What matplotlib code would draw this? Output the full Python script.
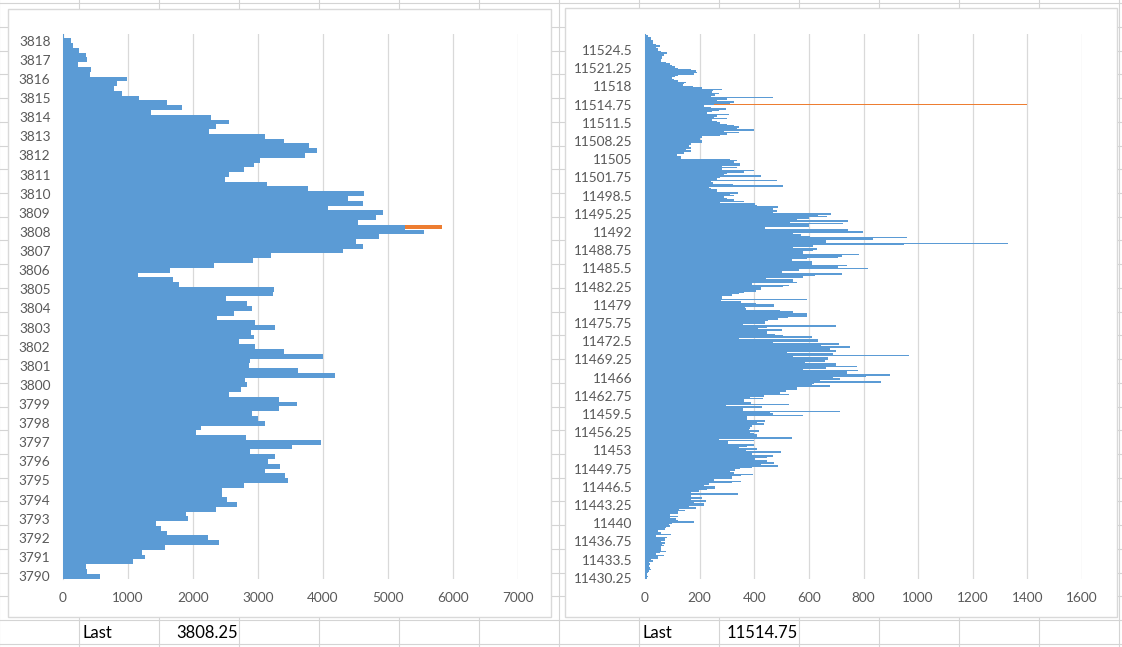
import matplotlib
matplotlib.use("Agg")
import matplotlib.pyplot as plt
from matplotlib.patches import Rectangle
import numpy as np

plt.rcParams['font.family'] = ['Lato', 'DejaVu Sans']

W, H = 1122, 647

# left profile: price ladder and volume, listed from the top price (3818.25) down to 3790
left_prices = np.arange(3790, 3818.5, 0.25)
left_volume_top_down = [
    20, 121, 154, 242, 352, 368, 231, 429, 418, 984,
    835, 780, 912, 1165, 1599, 1835, 1352, 2275, 2549, 2352,
    2242, 3110, 3401, 3780, 3912, 3720, 3027, 2934, 2786, 2560,
    2495, 3143, 3769, 4626, 4379, 4615, 4077, 4923, 4813, 4533,
    5269, 5555, 4857, 4511, 4615, 4308, 3203, 2923, 2319, 1648,
    1154, 1692, 1786, 3247, 3231, 2511, 2835, 2912, 2632, 2374,
    2956, 3264, 2896, 2940, 2709, 2956, 3401, 3995, 2874, 2863,
    3615, 4187, 2802, 2835, 2742, 2555, 3324, 3599, 3324, 2912,
    3000, 3110, 2121, 2049, 2819, 3973, 3527, 2879, 3258, 3154,
    3335, 3110, 3418, 3462, 2780, 2451, 2451, 2522, 2676, 2352,
    1890, 1923, 1434, 1511, 1599, 2231, 2396, 1571, 1214, 1258,
    1077, 352, 368, 571,
]
left_last = 3808.25
left_last_mark = 5830

# right profile: 11430.25 .. 11527.25, listed from the top down
right_prices = np.arange(11430.25, 11527.5, 0.25)
right_volume_top_down = [
    4, 10, 22, 22, 28, 28, 28, 40, 56, 40,
    46, 46, 58, 80, 70, 70, 64, 64, 60, 58,
    76, 90, 100, 110, 120, 167, 185, 191, 180, 119,
    110, 100, 107, 120, 149, 143, 140, 175, 210, 282,
    250, 246, 270, 258, 240, 470, 300, 264, 325, 310,
    252, 216, 240, 295, 270, 246, 228, 307, 264, 252,
    300, 246, 262, 276, 300, 325, 343, 337, 400, 288,
    343, 300, 276, 210, 200, 200, 210, 210, 167, 161,
    161, 167, 149, 167, 143, 143, 116, 131, 131, 313,
    337, 327, 349, 349, 282, 337, 282, 400, 361, 300,
    288, 424, 276, 264, 482, 240, 250, 322, 506, 234,
    240, 264, 264, 340, 313, 325, 288, 300, 325, 361,
    276, 404, 410, 488, 470, 470, 482, 470, 682, 634,
    667, 600, 555, 745, 530, 725, 600, 600, 440, 745,
    745, 797, 543, 570, 604, 958, 834, 664, 664, 1330,
    949, 616, 543, 628, 615, 580, 580, 783, 722, 707,
    592, 537, 610, 610, 610, 739, 707, 816, 565, 503,
    503, 721, 622, 580, 444, 543, 543, 555, 392, 528,
    507, 424, 424, 406, 361, 343, 319, 282, 282, 594,
    279, 352, 406, 473, 473, 367, 371, 495, 543, 594,
    594, 594, 525, 488, 452, 438, 438, 359, 700, 448,
    413, 500, 446, 446, 476, 507, 610, 343, 634, 634,
    470, 710, 646, 749, 676, 676, 700, 519, 688, 967,
    543, 670, 670, 658, 585, 700, 700, 776, 664, 580,
    779, 739, 739, 897, 810, 688, 713, 640, 864, 620,
    610, 676, 555, 555, 516, 516, 495, 528, 436, 385,
    431, 361, 361, 388, 528, 298, 428, 359, 359, 713,
    458, 470, 580, 373, 373, 373, 440, 410, 434, 392,
    392, 385, 379, 416, 383, 398, 410, 410, 540, 270,
    398, 303, 303, 398, 373, 343, 410, 371, 497, 392,
    392, 468, 446, 404, 446, 446, 473, 424, 488, 392,
    349, 330, 310, 327, 395, 352, 319, 319, 252, 352,
    319, 234, 216, 258, 258, 228, 198, 167, 340, 167,
    167, 210, 167, 222, 179, 216, 216, 161, 185, 125,
    145, 119, 119, 92, 119, 92, 113, 121, 179, 100,
    88, 92, 76, 73, 46, 46, 58, 97, 40, 80,
    73, 73, 58, 73, 61, 68, 58, 58, 58, 76,
    56, 40, 70, 46, 46, 22, 28, 16, 19, 16,
    16, 19, 22, 16, 10, 7, 7, 10, 7,
]
right_last = 11514.75
right_last_mark = 1400

BLUE = '#5b9bd5'
ORANGE = '#ed7d31'
GRID = '#d9d9d9'
CELL = '#d4d4d4'
LABEL = '#595959'


def px_box(x0, y0, x1, y1):
    return [x0 / W, 1 - y1 / H, (x1 - x0) / W, (y1 - y0) / H]


def fmt_price(p):
    return ('%.2f' % p).rstrip('0').rstrip('.')


fig = plt.figure(figsize=(W / 100, H / 100), dpi=100)

# spreadsheet background
bg = fig.add_axes([0, 0, 1, 1])
bg.set_xlim(0, W)
bg.set_ylim(H, 0)
bg.axis('off')
for x in np.arange(-1, W + 80, 80):
    bg.axvline(x, color=CELL, lw=0.8, zorder=1)
for y in 620 - 23.72 * np.arange(-1, 28):
    bg.axhline(y, color=CELL, lw=0.8, zorder=1)

bg.add_patch(Rectangle((8, 9), 543, 608, facecolor='white', edgecolor=GRID, lw=1, zorder=2))
bg.add_patch(Rectangle((565, 8), 552, 609, facecolor='white', edgecolor=GRID, lw=1, zorder=2))

bg.text(83, 633, 'Last', fontsize=12, va='center', ha='left', color='black', zorder=3)
bg.text(238, 633, fmt_price(left_last), fontsize=12, va='center', ha='right', color='black', zorder=3)
bg.text(643, 633, 'Last', fontsize=12, va='center', ha='left', color='black', zorder=3)
bg.text(798, 633, fmt_price(right_last), fontsize=12, va='center', ha='right', color='black', zorder=3)


def profile(box, prices, volume_top_down, last, last_mark, xmax, xstep, label_every, mark_h):
    ax = fig.add_axes(px_box(*box))
    ax.patch.set_alpha(0)
    vol = np.array(volume_top_down[::-1])
    n = len(prices)
    pos = np.arange(n)
    last_idx = int(np.argmin(np.abs(prices - last)))
    marks = np.zeros(n)
    marks[last_idx] = last_mark
    ax.barh(pos, marks, height=mark_h, color=ORANGE, lw=0, zorder=2)
    ax.barh(pos, vol, height=1.0, color=BLUE, lw=0, zorder=3)
    ax.set_ylim(-0.5, n - 0.5)
    ax.set_xlim(0, xmax)
    ax.set_xticks(np.arange(0, xmax + 1, xstep))
    ax.set_yticks(pos[::label_every])
    ax.set_yticklabels([fmt_price(p) for p in prices[::label_every]])
    ax.tick_params(axis='both', length=0, labelcolor=LABEL, labelsize=9.8)
    ax.tick_params(axis='y', pad=9)
    ax.tick_params(axis='x', pad=10)
    ax.grid(axis='x', color=GRID, lw=0.9, zorder=0)
    ax.set_axisbelow(True)
    for s in ('top', 'right', 'bottom'):
        ax.spines[s].set_visible(False)
    ax.spines['left'].set_color(GRID)
    return ax


profile((63, 33.5, 518, 578.5), left_prices, left_volume_top_down, left_last,
        left_last_mark, 7000, 1000, 4, 0.9)
profile((645, 34, 1082, 578.5), right_prices, right_volume_top_down, right_last,
        right_last_mark, 1600, 200, 13, 0.8)

fig.savefig('out.png', dpi=100)
